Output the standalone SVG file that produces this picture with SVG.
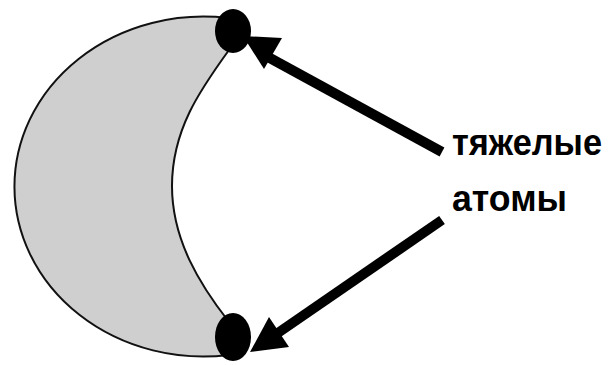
<svg xmlns="http://www.w3.org/2000/svg" width="611" height="365" viewBox="0 0 611 365">
<style>
.shape{fill:#cfcfcf;stroke:#111;stroke-width:2}
.atom{fill:#000}
.shaft{stroke:#000;stroke-width:10;stroke-linecap:butt;fill:none}
.head{fill:#000}
.lbl{font-family:"Liberation Sans",Arial,sans-serif;font-weight:bold;font-size:36px;fill:#000}
</style>
<g id="crescent">
<path class="shape" d="M228,18 A189,170 0 1 0 229,355 L229,322 C200,285 172,240 172,186 C172,130 200,90 229,50 Z"/>
</g>
<g id="atom-top"><ellipse class="atom" cx="233" cy="31" rx="18" ry="22"/></g>
<g id="atom-bottom"><ellipse class="atom" cx="233" cy="337" rx="18" ry="24"/></g>
<g id="connectors">
<line class="shaft" x1="442" y1="152" x2="268" y2="57"/>
<polygon class="head" points="243,36 264,69 282,38"/>
<line class="shaft" x1="442" y1="220" x2="272" y2="337"/>
<polygon class="head" points="250,352 289,347 269,317"/>
</g>
<g id="label">
<text class="lbl" x="452" y="155" textLength="150" lengthAdjust="spacingAndGlyphs">тяжелые</text>
<text class="lbl" x="452" y="211" textLength="115" lengthAdjust="spacingAndGlyphs">атомы</text>
</g>
</svg>
